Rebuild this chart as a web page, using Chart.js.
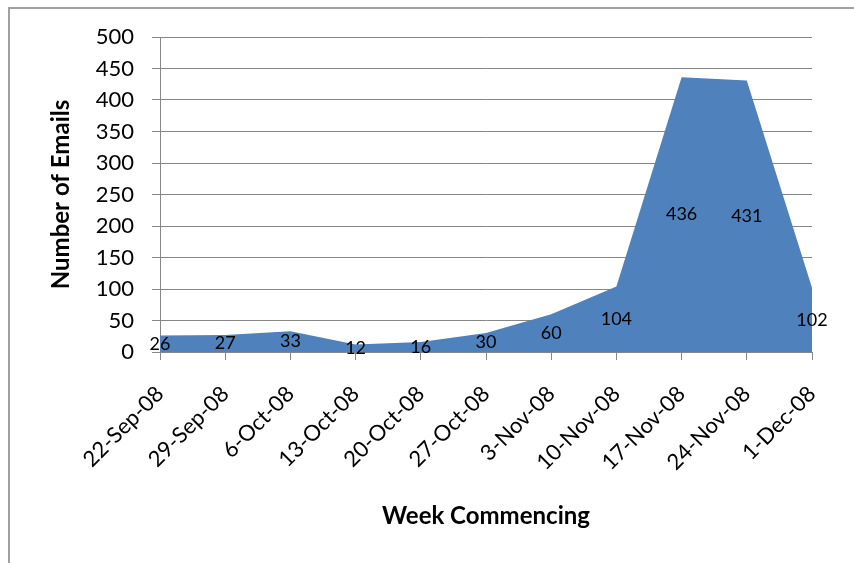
<!DOCTYPE html>
<html>
<head>
<meta charset="utf-8">
<script src="https://cdn.jsdelivr.net/npm/chart.js@4/dist/chart.umd.min.js"></script>
<style>
  html, body { margin: 0; padding: 0; background: #fff; }
  #wrap { width: 854px; height: 563px; }
</style>
</head>
<body>
<div id="wrap"><canvas id="emailChart" width="854" height="563"></canvas></div>
<script>
// Weekly email counts
const weeks = ["22-Sep-08", "29-Sep-08", "6-Oct-08", "13-Oct-08", "20-Oct-08", "27-Oct-08",
  "3-Nov-08", "10-Nov-08", "17-Nov-08", "24-Nov-08", "1-Dec-08"];
const emails = [26, 27, 33, 12, 16, 30, 60, 104, 436, 431, 102];
const yTicks = [0, 50, 100, 150, 200, 250, 300, 350, 400, 450, 500];

const gridGray = "#868686";

// light frame round the chart, cut off at right and bottom like the original
const framePlugin = {
  id: "frame",
  beforeDraw(chart) {
    const ctx = chart.ctx;
    ctx.save();
    ctx.fillStyle = "#fff";
    ctx.fillRect(0, 0, chart.width, chart.height);
    ctx.strokeStyle = "#a0a0a0";
    ctx.lineWidth = 2;
    ctx.strokeRect(9, 8, 1000, 1000);
    ctx.restore();
  }
};

// Excel puts area labels half way up each point
const midLabels = {
  id: "midLabels",
  afterDatasetsDraw(chart) {
    const ctx = chart.ctx;
    const xs = chart.scales.x, ys = chart.scales.y;
    ctx.save();
    ctx.font = "18px Lato";
    ctx.fillStyle = "#000";
    ctx.textAlign = "center";
    ctx.textBaseline = "middle";
    emails.forEach((v, i) => {
      ctx.fillText(String(v), xs.getPixelForValue(i), ys.getPixelForValue(v / 2));
    });
    ctx.restore();
  }
};

new Chart(document.getElementById("emailChart"), {
  type: "line",
  data: {
    labels: weeks,
    datasets: [{
      data: emails,
      fill: "origin",
      backgroundColor: "#4F81BD",
      borderWidth: 0,
      borderColor: "#4F81BD",
      pointRadius: 0,
      tension: 0
    }]
  },
  options: {
    responsive: false,
    animation: false,
    layout: { padding: { left: 0, top: 37, right: 42, bottom: 0 } },
    plugins: { legend: { display: false }, tooltip: { enabled: false } },
    scales: {
      x: {
        offset: false,
        afterFit(scale) { scale.height = 211; },
        grid: { drawOnChartArea: false, color: gridGray, tickLength: 8 },
        border: { color: gridGray },
        ticks: {
          color: "#000",
          font: { family: "Lato", size: 22 },
          minRotation: 45, maxRotation: 45,
          padding: 21,
          autoSkip: false
        },
        title: {
          display: true,
          text: "Week Commencing",
          color: "#000",
          font: { family: "Lato", size: 24, weight: "bold" },
          padding: { top: 0, bottom: 32 }
        }
      },
      y: {
        min: 0, max: 500,
        afterFit(scale) { scale.width = 160; },
        afterBuildTicks(scale) { scale.ticks = yTicks.map(v => ({ value: v })); },
        grid: { color: gridGray, tickLength: 8 },
        border: { color: gridGray },
        ticks: {
          color: "#000",
          font: { family: "Lato", size: 22 },
          padding: 18
        },
        title: {
          display: true,
          text: "Number of Emails",
          color: "#000",
          font: { family: "Lato", size: 24, weight: "bold" },
          padding: { top: 47, bottom: 0 }
        }
      }
    }
  },
  plugins: [framePlugin, midLabels]
});
</script>
</body>
</html>
